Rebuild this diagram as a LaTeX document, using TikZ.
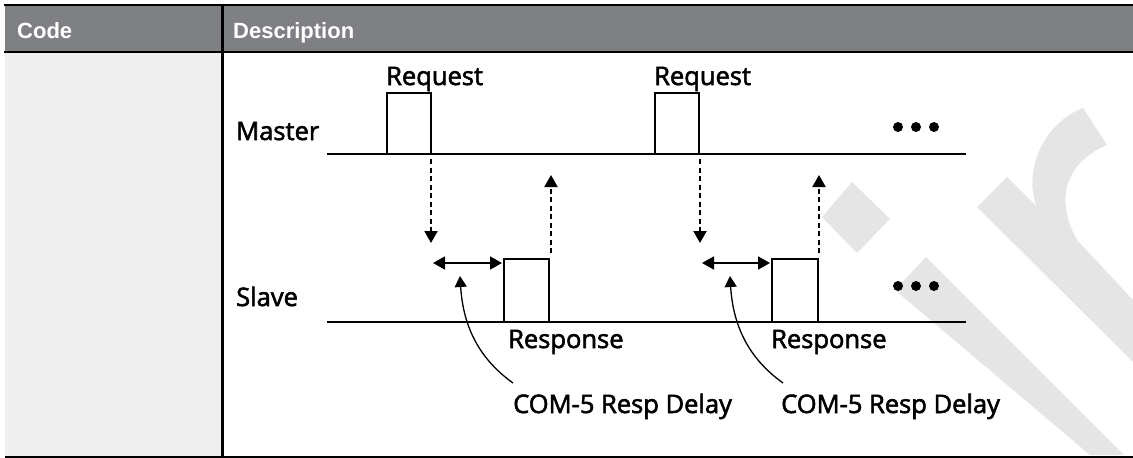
\documentclass[tikz,border=0pt]{standalone}
\usepackage{fontspec}
\newfontfamily\lblfont{Open Sans}[RawFeature={embolden=2.2}]
\newfontfamily\hdrfont{Liberation Sans}
\usetikzlibrary{arrows.meta}
\definecolor{hdrgray}{HTML}{7F8084}
\definecolor{colgray}{HTML}{EFEFEF}
\definecolor{wmgray}{HTML}{E5E5E5}
\tikzset{
  rule/.style={line width=2.4pt, line cap=rect},
  sig/.style={line width=2pt},
  pulsebox/.style={line width=1.6pt, line join=miter},
  lbl/.style={font=\lblfont\fontsize{25.5}{28}\selectfont, inner sep=0pt, anchor=base west},
  hdr/.style={font=\hdrfont\bfseries\fontsize{22}{26}\selectfont, text=white, inner sep=0pt, anchor=base west},
  dasharrow/.style={line width=2pt, dash pattern=on 5pt off 3.5pt, -{Triangle[width=13pt,length=12pt]}},
  dblarrow/.style={line width=1.8pt, {Triangle[width=13pt,length=12pt]}-{Triangle[width=13pt,length=12pt]}},
  curvearrow/.style={line width=1.3pt, -{Triangle[width=12pt,length=11pt]}},
  dotmark/.style={fill=black}
}
\begin{document}
\begin{tikzpicture}[x=1pt,y=-1pt]
\useasboundingbox (0,0) rectangle (1133,458);
% backgrounds
\fill[hdrgray] (5,5) rectangle (1133,52);
\fill[colgray] (5,52) rectangle (222,456);
% watermark
\fill[wmgray] (822,217) -- (852,182) -- (890,219) -- (857,253) -- cycle;
\fill[wmgray] (926,257) -- (895,290) -- (1090,455) -- (1124,455) -- cycle;
\fill[wmgray] (977,207) -- (1007,177) -- (1037,207)
  .. controls (1022,170) and (1045,122) .. (1083,108) -- (1107,145)
  .. controls (1070,160) and (1052,195) .. (1077,240) -- (1133,300) -- (1133,362) -- cycle;
% table rules
\draw[rule] (5,5) -- (1133,5);
\draw[rule] (5,52) -- (1133,52);
\draw[rule] (222.5,5) -- (222.5,456);
\draw[line width=2pt] (5,456.5) -- (1133,456.5);
% header
\node[hdr] (hcode) at (17,38) {Code};
\node[hdr] (hdesc) at (233,38) {Description};
% labels
\node[lbl] (master) at (236,140) {Master};
\node[lbl] (slave) at (236,306) {Slave};
% signal lines
\coordinate (ml0) at (327,154); \coordinate (ml1) at (966,154);
\coordinate (sl0) at (327,321.5); \coordinate (sl1) at (966,321.5);
\draw[sig] (ml0) -- (ml1);
\draw[sig] (sl0) -- (sl1);
% pulses
\draw[pulsebox] (387,154) |- (431,93) -- (431,154);
\draw[pulsebox] (655,154) |- (699,93) -- (699,154);
\draw[pulsebox] (504,321.5) |- (549,259) -- (549,321.5);
\draw[pulsebox] (772,321.5) |- (818,259) -- (818,321.5);
% texts
\node[lbl] (req1) at (386,85) {Request};
\node[lbl] (req2) at (654,85) {Request};
\node[lbl] (resp1) at (508,348) {Response};
\node[lbl] (resp2) at (771,348) {Response};
\node[lbl] (dly1) at (513,413) {COM-5 Resp Delay};
\node[lbl] (dly2) at (781,413) {COM-5 Resp Delay};
% dots
\foreach \x in {898,916,934}{
  \fill[dotmark] (\x,127) circle (5);
  \fill[dotmark] (\x,286) circle (5);
}
% arrows group 1
\coordinate (d1s) at (431,159); \coordinate (d1e) at (431,243);
\coordinate (u1s) at (551,253); \coordinate (u1e) at (551,175);
\coordinate (h1s) at (433,263); \coordinate (h1e) at (502,263);
\coordinate (c1s) at (513,383); \coordinate (c1e) at (460,276);
\draw[dasharrow] (d1s) -- (d1e);
\draw[dasharrow] (u1s) -- (u1e);
\draw[dblarrow] (h1s) -- (h1e);
\draw[curvearrow] (c1s) .. controls (478,358) and (463,325) .. (c1e);
% arrows group 2
\coordinate (d2s) at (700,159); \coordinate (d2e) at (700,243);
\coordinate (u2s) at (819,253); \coordinate (u2e) at (819,175);
\coordinate (h2s) at (702,263); \coordinate (h2e) at (770,263);
\coordinate (c2s) at (783,383); \coordinate (c2e) at (730,276);
\draw[dasharrow] (d2s) -- (d2e);
\draw[dasharrow] (u2s) -- (u2e);
\draw[dblarrow] (h2s) -- (h2e);
\draw[curvearrow] (c2s) .. controls (748,358) and (733,325) .. (c2e);
\end{tikzpicture}
\end{document}
